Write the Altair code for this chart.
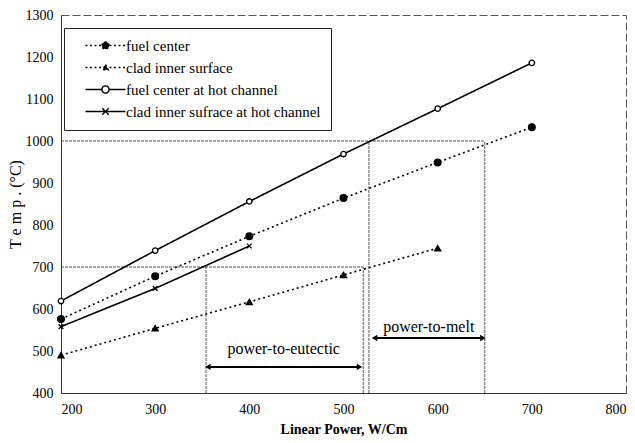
import altair as alt
import pandas as pd

FONT = "Times New Roman, Liberation Serif, serif"

series_names = [
    "fuel center",
    "clad inner surface",
    "fuel center at hot channel",
    "clad inner sufrace at hot channel",
]
power_fc = [200, 300, 400, 500, 600, 700]
temp_fc = [576, 678, 773, 864, 949, 1033]
power_ci = [200, 300, 400, 500, 600]
temp_ci = [490, 554, 617, 681, 745]
power_fch = [200, 300, 400, 500, 600, 700]
temp_fch = [619, 739, 856, 969, 1077, 1186]
power_cih = [200, 300, 400]
temp_cih = [558, 649, 750]

# guide lines (threshold temperatures and the powers where curves reach them)
guide_x1 = [200, 527, 650, 200, 354, 521]
guide_x2 = [650, 527, 650, 521, 354, 521]
guide_y1 = [1000, 400, 400, 700, 400, 400]
guide_y2 = [1000, 1000, 1000, 700, 700, 700]

# margin arrows
arrow_labels = ["power-to-eutectic", "power-to-melt"]
arrow_x1 = [356, 533]
arrow_x2 = [517, 648]
arrow_y = [462, 531]
label_y = [505, 557]

rows = []
for name, xs, ys in zip(series_names,
                        [power_fc, power_ci, power_fch, power_cih],
                        [temp_fc, temp_ci, temp_fch, temp_cih]):
    for x, y in zip(xs, ys):
        rows.append({"series": name, "power": x, "temp": y})
df = pd.DataFrame(rows)

guides = pd.DataFrame({"x1": guide_x1, "x2": guide_x2, "y1": guide_y1, "y2": guide_y2})
arrows = pd.DataFrame({"label": arrow_labels, "x1": arrow_x1, "x2": arrow_x2,
                       "y": arrow_y, "ly": label_y})

xscale = alt.Scale(domain=[200, 800], nice=False)
yscale = alt.Scale(domain=[400, 1300], nice=False)

xaxis = alt.Axis(values=[200, 300, 400, 500, 600, 700, 800], title="Linear Power, W/Cm",
                 format="d", grid=False, ticks=False, labelPadding=9, titlePadding=6,
                 labelFont=FONT, labelFontSize=14, titleFont=FONT, titleFontSize=14,
                 titleFontWeight="bold", labelColor="black", titleColor="black",
                 domainColor="#333")
yaxis = alt.Axis(values=list(range(400, 1301, 100)), title="T e m p .  (°C)",
                 format="d", grid=False, ticks=False, labelPadding=8,
                 labelFont=FONT, labelFontSize=14, titleFont=FONT, titleFontSize=16,
                 titleFontWeight="normal", labelColor="black", titleColor="black",
                 titleX=-38, domainColor="#333")

guide_layer = alt.Chart(guides).mark_rule(color="#555", strokeWidth=1, strokeDash=[3, 1]).encode(
    x=alt.X("x1:Q", scale=xscale, axis=xaxis),
    x2="x2:Q",
    y=alt.Y("y1:Q", scale=yscale, axis=yaxis),
    y2="y2:Q",
)

dash_scale = alt.Scale(domain=series_names, range=[[2, 3], [2, 3], [1, 0], [1, 0]])
lines = alt.Chart(df).mark_line(color="black", strokeWidth=1.6).encode(
    x=alt.X("power:Q", scale=xscale),
    y=alt.Y("temp:Q", scale=yscale),
    strokeDash=alt.StrokeDash("series:N", scale=dash_scale, legend=None),
    detail="series:N",
)

fill_range = ["black", "black", "white", "transparent"]
shape_scale = alt.Scale(domain=series_names,
                        range=["circle", "triangle-up", "circle", "M-1,-1L1,1M-1,1L1,-1"])
fill_scale = alt.Scale(domain=series_names, range=fill_range)
size_scale = alt.Scale(domain=series_names, range=[45, 22, 38, 40])
points = alt.Chart(df).mark_point(stroke="black", strokeWidth=1.3, opacity=1, fillOpacity=1).encode(
    x=alt.X("power:Q", scale=xscale),
    y=alt.Y("temp:Q", scale=yscale),
    shape=alt.Shape("series:N", scale=shape_scale, legend=None),
    fill=alt.Fill("series:N", scale=fill_scale, legend=None),
    size=alt.Size("series:N", scale=size_scale, legend=None),
)

# legend: line-with-marker symbols
legend_paths = [
    "M-5,0L-1,0M1,0L5,0M-0.9,0A0.9,0.9,0,1,1,0.9,0A0.9,0.9,0,1,1,-0.9,0Z",
    "M-5,0L-1,0M1,0L5,0M0,-0.75L0.7,0.55L-0.7,0.55Z",
    "M-5,0L-0.9,0M0.9,0L5,0M-0.9,0A0.9,0.9,0,1,1,0.9,0A0.9,0.9,0,1,1,-0.9,0Z",
    "M-5,0L5,0M-0.8,-0.8L0.8,0.8M-0.8,0.8L0.8,-0.8",
]
legend = alt.Legend(
    title=None, orient="none", legendX=3, legendY=13,
    fillColor="white", strokeColor="#222", padding=10,
    labelFont=FONT, labelFontSize=15, labelColor="black", labelLimit=400,
    symbolSize=64, symbolOffset=24, labelOffset=13, rowPadding=6,
    symbolStrokeWidth=1.4, symbolOpacity=1,
)
legend_layer = alt.Chart(df).transform_filter("false").mark_point(
    strokeWidth=1.4, size=64, opacity=1, fillOpacity=1).encode(
    x=alt.X("power:Q", scale=xscale),
    y=alt.Y("temp:Q", scale=yscale),
    shape=alt.Shape("series:N", scale=alt.Scale(domain=series_names, range=legend_paths), legend=legend),
    fill=alt.Fill("series:N", scale=alt.Scale(domain=series_names, range=fill_range), legend=legend),
    stroke=alt.Stroke("series:N", scale=alt.Scale(domain=series_names, range=["black"] * 4), legend=legend),
    strokeDash=alt.StrokeDash("series:N", scale=alt.Scale(domain=series_names,
                              range=[[2, 2.5], [2, 2.5], [1, 0], [1, 0]]), legend=legend),
)

arrow_base = alt.Chart(arrows)
arrow_rules = arrow_base.mark_rule(color="black", strokeWidth=2).encode(
    x=alt.X("x1:Q", scale=xscale), x2="x2:Q", y=alt.Y("y:Q", scale=yscale))
head_left = arrow_base.mark_point(shape="triangle-left", filled=True, color="black",
                                  size=40, opacity=1).encode(
    x=alt.X("x1:Q", scale=xscale), y=alt.Y("y:Q", scale=yscale))
head_right = arrow_base.mark_point(shape="triangle-right", filled=True, color="black",
                                   size=40, opacity=1).encode(
    x=alt.X("x2:Q", scale=xscale), y=alt.Y("y:Q", scale=yscale))
arrow_text = arrow_base.transform_calculate(mx="(datum.x1 + datum.x2) / 2").mark_text(
    font=FONT, fontSize=16, color="black", align="center", baseline="middle").encode(
    x=alt.X("mx:Q", scale=xscale), y=alt.Y("ly:Q", scale=yscale), text="label:N")

chart = alt.layer(guide_layer, lines, points, arrow_rules, head_left, head_right, arrow_text,
                  legend_layer).resolve_scale(
    shape="independent", fill="independent", size="independent", strokeDash="independent",
    stroke="independent"
).properties(
    width=565, height=378,
    autosize=alt.AutoSizeParams(type="none"),
    padding={"left": 61, "top": 15, "right": 9, "bottom": 50},
).configure(font=FONT).configure_view(
    stroke="#555", strokeDash=[8, 3], strokeWidth=1
).configure_text(font=FONT).configure_legend(labelFont=FONT)

chart.save("out.html", embed_options={"renderer": "svg", "actions": False})
